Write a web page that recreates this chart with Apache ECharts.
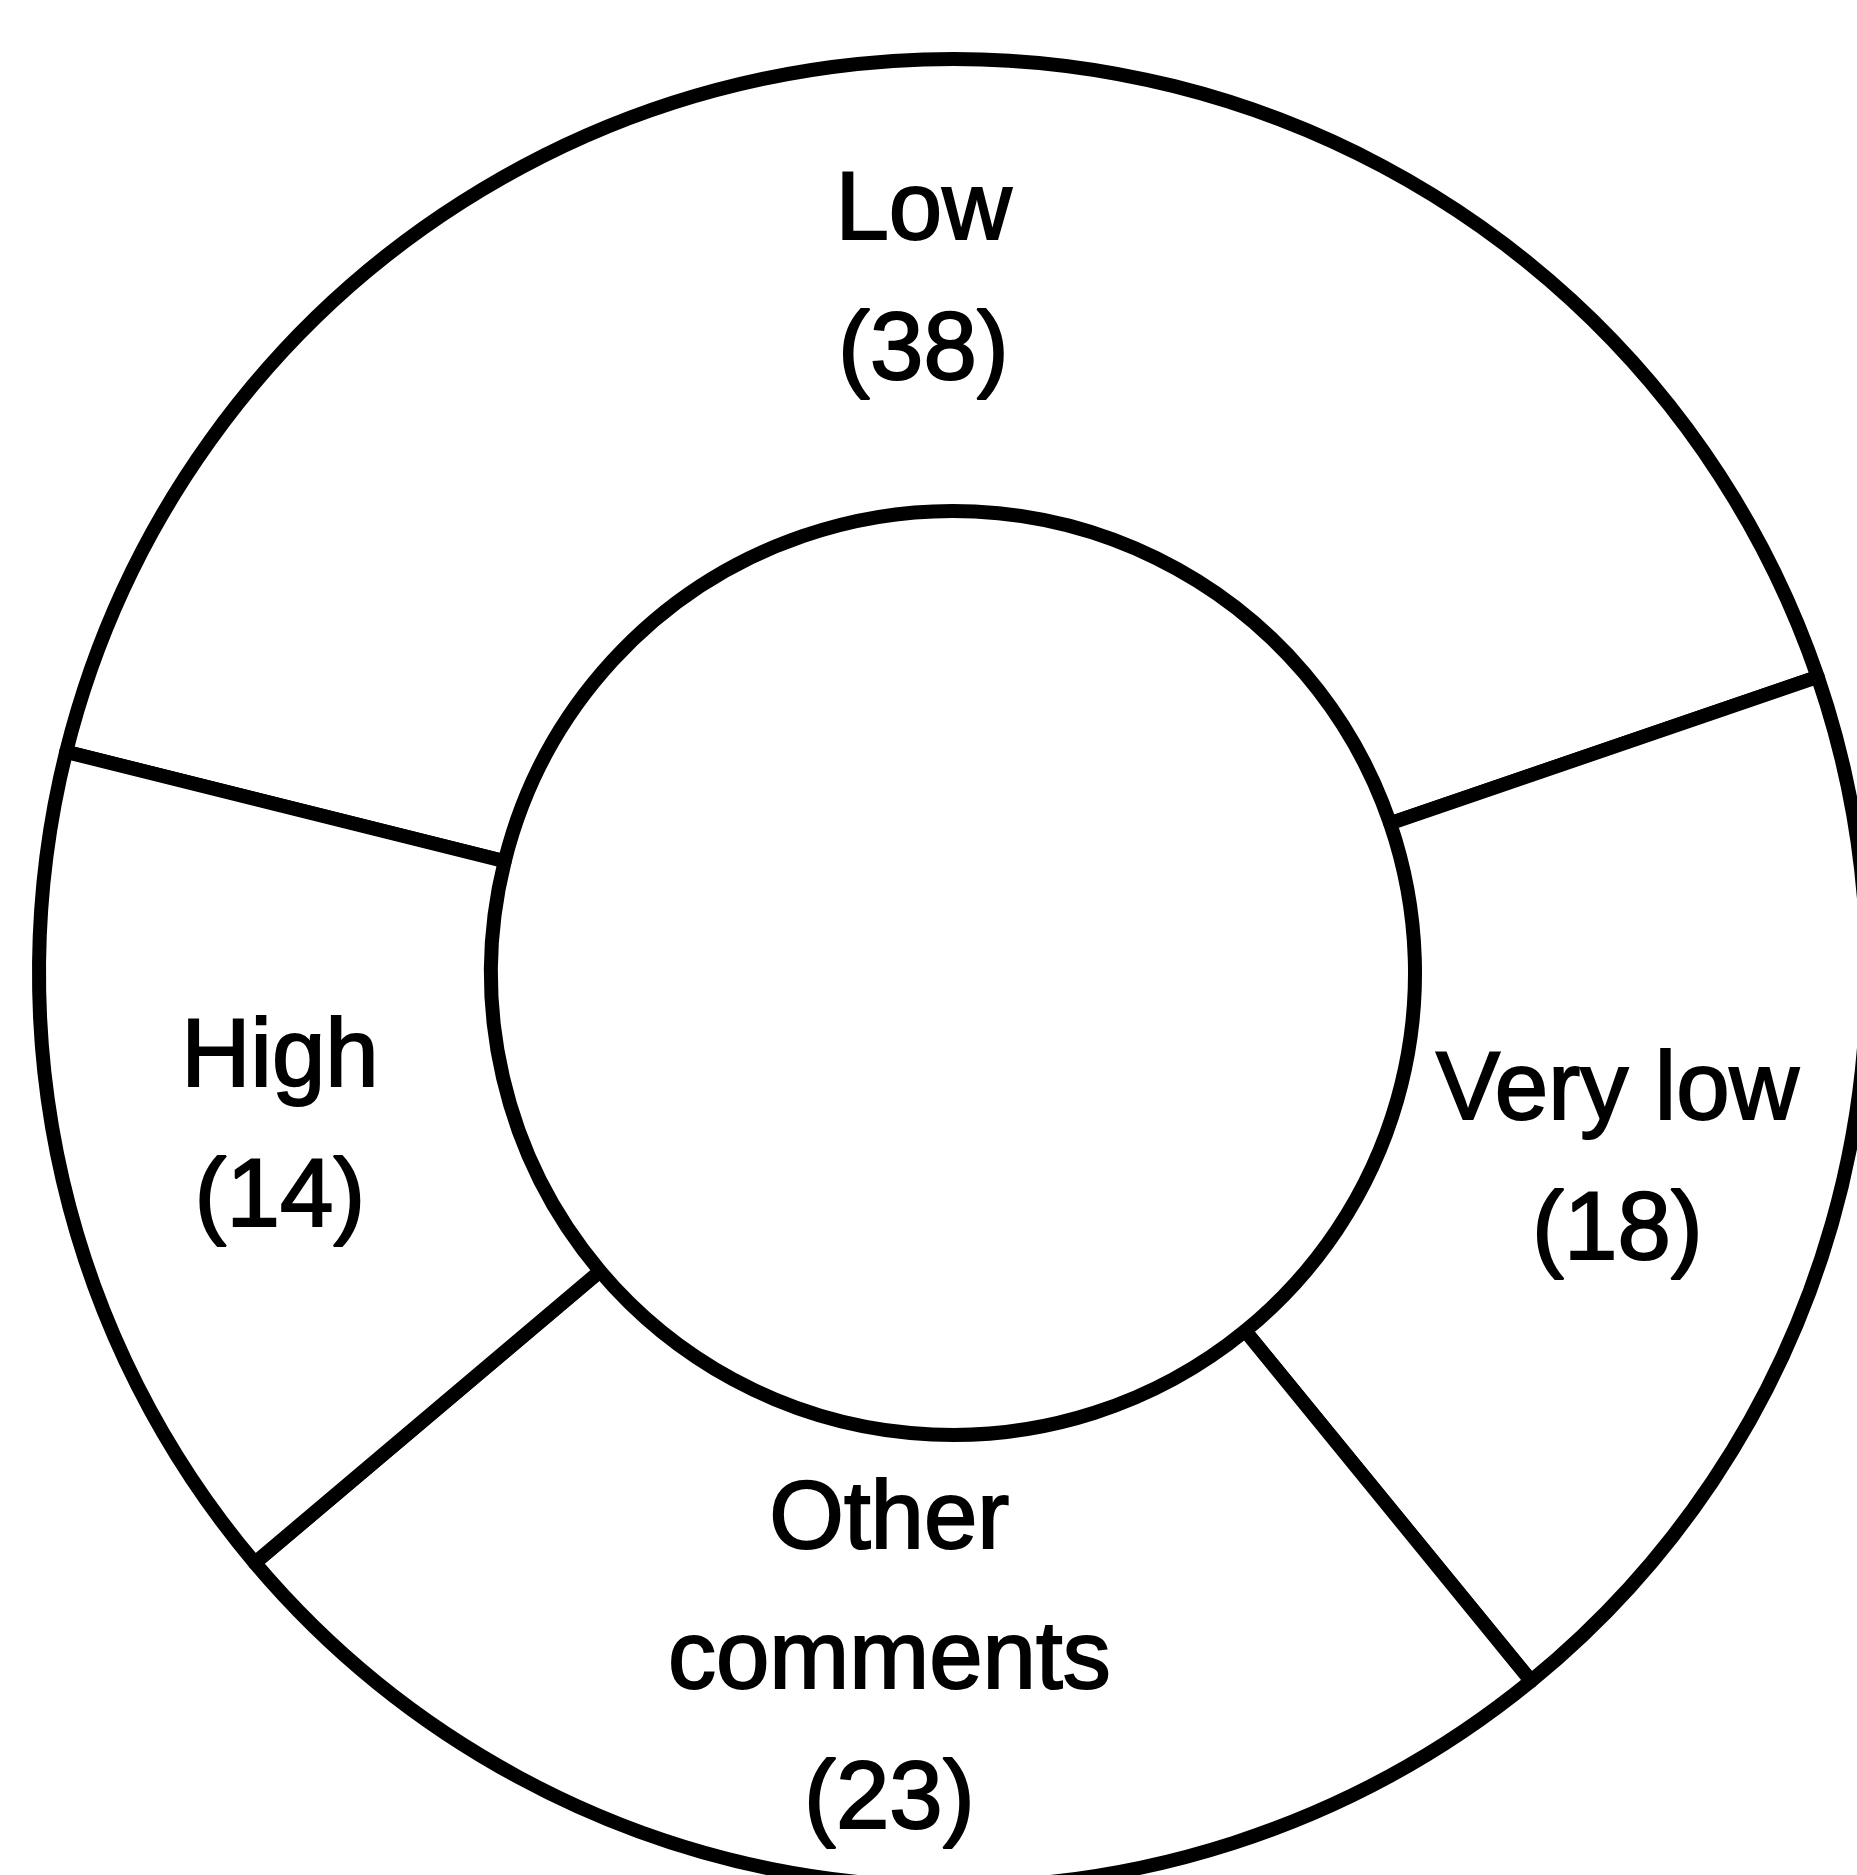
<!DOCTYPE html>
<html>
<head>
<meta charset="utf-8">
<style>
  html, body { margin: 0; padding: 0; background: #fff; }
  #main { width: 1857px; height: 1875px; }
</style>
<script src="https://cdn.jsdelivr.net/npm/echarts@6/dist/echarts.min.js"></script>
</head>
<body>
<div id="main"></div>
<script>
// 数据
var categories = ['Low', 'Very low', 'Other\ncomments', 'High'];
var counts = [38, 18, 23, 14];

var myChart = echarts.init(document.getElementById('main'));

var pieData = categories.map(function (name, i) {
    return { name: name, value: counts[i] };
});

var option = {
    backgroundColor: '#ffffff',
    animation: false,
    series: [
        {
            type: 'pie',
            center: [953, 973],
            radius: [462, 914],
            startAngle: 166,
            clockwise: true,
            avoidLabelOverlap: false,
            itemStyle: {
                color: '#ffffff',
                borderColor: '#000000',
                borderWidth: 14
            },
            label: {
                show: true,
                position: 'inside',
                formatter: '{b}\n({c})',
                color: '#000000',
                fontFamily: '"Liberation Sans Narrow", "Liberation Sans", Arial, sans-serif',
                fontSize: 96,
                lineHeight: 140,
                textBorderColor: '#000000',
                textBorderWidth: 2,
                align: 'center'
            },
            labelLine: { show: false },
            emphasis: { disabled: true },
            data: pieData
        }
    ]
};
myChart.setOption(option);
</script>
</body>
</html>
